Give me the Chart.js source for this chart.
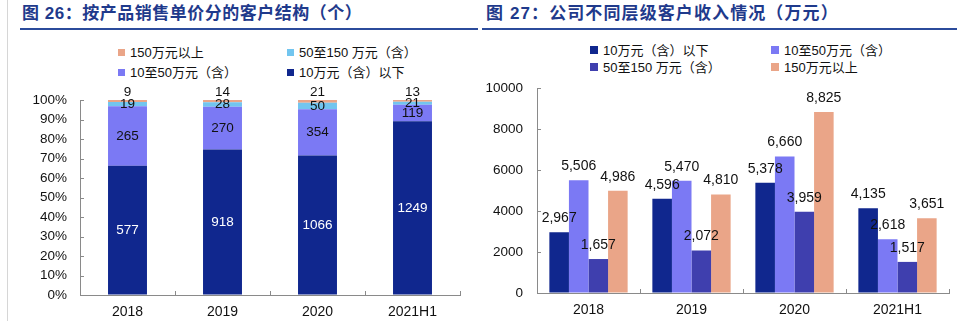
<!DOCTYPE html>
<html><head><meta charset="utf-8">
<script src="https://cdn.jsdelivr.net/npm/chart.js@4"></script>
<style>
html,body{margin:0;padding:0;background:#fff;}
body{width:966px;height:321px;position:relative;overflow:hidden;font-family:"Liberation Sans","Noto Sans CJK SC",sans-serif;}
.vline{position:absolute;left:7px;top:0;width:1px;height:321px;background:#d6d6d6;}
.title{position:absolute;top:3px;font-size:17px;font-weight:bold;color:#1f3a8c;white-space:nowrap;line-height:22px;}
.rule{position:absolute;top:28px;height:2px;background:#2b4b9b;}
.item{position:absolute;white-space:nowrap;font-size:13px;line-height:16px;color:#111;}
.sw{display:inline-block;width:7px;height:7px;margin-right:5px;vertical-align:1px;}
canvas{position:absolute;top:0;}
</style></head>
<body>
<div class="vline"></div>
<div class="title" style="left:22px;letter-spacing:0.5px;">图 26：按产品销售单价分的客户结构（个）</div>
<div class="rule" style="left:20px;width:458px;"></div>
<div class="title" style="left:486px;letter-spacing:1.1px;">图 27：公司不同层级客户收入情况（万元）</div>
<div class="rule" style="left:482px;width:475px;"></div>
<div id="legL"></div>
<div id="legR"></div>
<div style="position:absolute;left:0;top:0;width:480px;height:321px;"><canvas id="c1" width="480" height="321"></canvas></div>
<div style="position:absolute;left:480px;top:0;width:486px;height:321px;"><canvas id="c2" width="486" height="321"></canvas></div>
<script>
// ---- data ----
const categories = ['2018', '2019', '2020', '2021H1'];
const seriesNames = ['10万元（含）以下', '10至50万元（含）', '50至150 万元（含）', '150万元以上'];
// customer counts (left chart)
const cntBelow10  = [577, 918, 1066, 1249];
const cnt10to50   = [265, 270, 354, 119];
const cnt50to150  = [19, 28, 50, 21];
const cntAbove150 = [9, 14, 21, 13];
// revenue, 万元 (right chart)
const revBelow10  = [2967, 4596, 5378, 4135];
const rev10to50   = [5506, 5470, 6660, 2618];
const rev50to150  = [1657, 2072, 3959, 1517];
const revAbove150 = [4986, 4810, 8825, 3651];
// axis ticks
const pctTicks = [0, 10, 20, 30, 40, 50, 60, 70, 80, 90, 100];
const revTicks = [0, 2000, 4000, 6000, 8000, 10000];

const FONT = '"Liberation Sans","Noto Sans CJK SC",sans-serif';
Chart.defaults.font.family = FONT;
Chart.defaults.color = '#111';
Chart.defaults.animation = false;

const NAVY = '#10278e', PERI = '#7b79f4', SKY = '#72c5ef', SALMON = '#eaa588', MID = '#3f3fae';
const AXIS = '#8a8a8a';

// ---- legends (HTML) ----
function legend(id, items) {
  const el = document.getElementById(id);
  items.forEach(it => {
    const d = document.createElement('div');
    d.className = 'item';
    d.style.left = it.x + 'px';
    d.style.top = (it.y - 8) + 'px';
    d.innerHTML = '<span class="sw" style="background:' + it.c + ';width:' + it.s + 'px;height:' + it.s + 'px"></span>' + it.t;
    el.appendChild(d);
  });
}
legend('legL', [
  {x: 118, y: 53, c: SALMON, t: seriesNames[3], s: 7},
  {x: 287, y: 53, c: SKY, t: seriesNames[2], s: 7},
  {x: 118, y: 73, c: PERI, t: seriesNames[1], s: 7},
  {x: 287, y: 73, c: NAVY, t: seriesNames[0], s: 7}
]);
legend('legR', [
  {x: 590, y: 51, c: NAVY, t: seriesNames[0], s: 8},
  {x: 771, y: 51, c: PERI, t: seriesNames[1], s: 8},
  {x: 590, y: 68, c: MID, t: seriesNames[2], s: 8},
  {x: 771, y: 68, c: SALMON, t: seriesNames[3], s: 8}
]);

// ---- plugins ----
const innerTicks = {
  id: 'innerTicks',
  afterDraw(chart) {
    const ctx = chart.ctx, a = chart.chartArea;
    const y = chart.scales.y, x = chart.scales.x;
    ctx.save();
    ctx.strokeStyle = AXIS; ctx.lineWidth = 1;
    y.ticks.forEach(t => {
      const py = Math.round(y.getPixelForValue(t.value)) + 0.5;
      ctx.beginPath(); ctx.moveTo(a.left, py); ctx.lineTo(a.left + 4, py); ctx.stroke();
    });
    const n = chart.data.labels.length, w = (a.right - a.left) / n;
    for (let k = 1; k <= n; k++) {
      const px = Math.round(a.left + k * w) + 0.5;
      ctx.beginPath(); ctx.moveTo(px, a.bottom); ctx.lineTo(px, a.bottom - 4); ctx.stroke();
    }
    ctx.restore();
  }
};

const stackLabels = {
  id: 'stackLabels',
  afterDatasetsDraw(chart) {
    const ctx = chart.ctx;
    ctx.save();
    ctx.font = '13.5px ' + FONT;
    ctx.textAlign = 'center';
    ctx.textBaseline = 'middle';
    const last = chart.data.datasets.length - 1;
    chart.data.datasets.forEach((ds, i) => {
      chart.getDatasetMeta(i).data.forEach((bar, j) => {
        const v = ds.counts[j];
        let yy;
        if (i === last) yy = bar.y - 8;
        else yy = (bar.y + bar.base) / 2;
        ctx.fillStyle = i === 0 ? '#ffffff' : '#111111';
        ctx.fillText(String(v), bar.x, yy);
      });
    });
    ctx.restore();
  }
};

const topLabels = {
  id: 'topLabels',
  afterDatasetsDraw(chart) {
    const ctx = chart.ctx;
    ctx.save();
    ctx.font = '14px ' + FONT;
    ctx.textAlign = 'center';
    ctx.textBaseline = 'middle';
    ctx.fillStyle = '#111';
    chart.data.datasets.forEach((ds, i) => {
      chart.getDatasetMeta(i).data.forEach((bar, j) => {
        ctx.fillText(ds.data[j].toLocaleString('en-US'), bar.x, bar.y - 14);
      });
    });
    ctx.restore();
  }
};

// ---- left: 100% stacked ----
const totals = categories.map((_, j) => cntBelow10[j] + cnt10to50[j] + cnt50to150[j] + cntAbove150[j]);
const pct = arr => arr.map((v, j) => v / totals[j] * 100);

new Chart(document.getElementById('c1'), {
  type: 'bar',
  data: {
    labels: categories,
    datasets: [
      {label: seriesNames[0], data: pct(cntBelow10), counts: cntBelow10, backgroundColor: NAVY},
      {label: seriesNames[1], data: pct(cnt10to50), counts: cnt10to50, backgroundColor: PERI},
      {label: seriesNames[2], data: pct(cnt50to150), counts: cnt50to150, backgroundColor: SKY},
      {label: seriesNames[3], data: pct(cntAbove150), counts: cntAbove150, backgroundColor: SALMON}
    ]
  },
  options: {
    responsive: false,
    animation: false,
    layout: {padding: {top: 100, right: 20, left: 0, bottom: 0}},
    plugins: {legend: {display: false}, tooltip: {enabled: false}},
    datasets: {bar: {categoryPercentage: 1, barPercentage: 0.41}},
    scales: {
      x: {
        stacked: true,
        grid: {drawOnChartArea: false, drawTicks: false, color: 'transparent'},
        border: {display: true, color: AXIS, width: 1},
        ticks: {font: {size: 14}, color: '#111', padding: 9, maxRotation: 0},
        afterFit: s => { s.height = 26; }
      },
      y: {
        stacked: true,
        min: 0, max: 100,
        afterBuildTicks: s => { s.ticks = pctTicks.map(v => ({value: v})); },
        grid: {drawOnChartArea: false, drawTicks: false, color: 'transparent'},
        border: {display: true, color: AXIS, width: 1},
        ticks: {font: {size: 13.5}, color: '#111', padding: 13, callback: v => v + '%'},
        afterFit: s => { s.width = 80; }
      }
    }
  },
  plugins: [innerTicks, stackLabels]
});

// ---- right: grouped bars ----
new Chart(document.getElementById('c2'), {
  type: 'bar',
  data: {
    labels: categories,
    datasets: [
      {label: seriesNames[0], data: revBelow10, backgroundColor: NAVY},
      {label: seriesNames[1], data: rev10to50, backgroundColor: PERI},
      {label: seriesNames[2], data: rev50to150, backgroundColor: MID},
      {label: seriesNames[3], data: revAbove150, backgroundColor: SALMON}
    ]
  },
  options: {
    responsive: false,
    animation: false,
    layout: {padding: {top: 88, right: 17, left: 0, bottom: 0}},
    plugins: {legend: {display: false}, tooltip: {enabled: false}},
    datasets: {bar: {categoryPercentage: 0.76, barPercentage: 1}},
    scales: {
      x: {
        grid: {drawOnChartArea: false, drawTicks: false, color: 'transparent'},
        border: {display: true, color: AXIS, width: 1},
        ticks: {font: {size: 14}, color: '#111', padding: 9, maxRotation: 0},
        afterFit: s => { s.height = 28; }
      },
      y: {
        min: 0, max: 10000,
        afterBuildTicks: s => { s.ticks = revTicks.map(v => ({value: v})); },
        grid: {drawOnChartArea: false, drawTicks: false, color: 'transparent'},
        border: {display: true, color: AXIS, width: 1},
        ticks: {font: {size: 13.5}, color: '#111', padding: 14, callback: v => String(v)},
        afterFit: s => { s.width = 57; }
      }
    }
  },
  plugins: [innerTicks, topLabels]
});
</script>
</body></html>
